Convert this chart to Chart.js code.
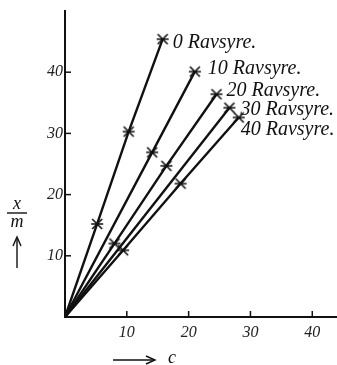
<!DOCTYPE html>
<html>
<head>
<meta charset="utf-8">
<script src="https://cdn.jsdelivr.net/npm/chart.js@4.4.1/dist/chart.umd.min.js"></script>
<style>
  html, body { margin: 0; padding: 0; background: #fff; }
  #wrap { width: 337px; height: 365px; }
</style>
</head>
<body>
<div id="wrap"><canvas id="adsorptionChart"></canvas></div>
<script>
// concentration c and adsorbed amount x/m, one pair of arrays per curve
var seriesLabels = ['0 Ravsyre.', '10 Ravsyre.', '20 Ravsyre.', '30 Ravsyre.', '40 Ravsyre.'];

var c0 = [0, 5.2, 10.3, 15.8];
var xm0 = [0, 15.2, 30.3, 45.4];

var c10 = [0, 14.1, 21.0];
var xm10 = [0, 26.9, 40.1];

var c20 = [0, 8.0, 16.4, 24.5];
var xm20 = [0, 12.0, 24.7, 36.4];

var c30 = [0, 26.6];
var xm30 = [0, 34.2];

var c40 = [0, 9.4, 18.7, 28.1];
var xm40 = [0, 10.9, 21.8, 32.6];

var xTicks = [10, 20, 30, 40];
var yTicks = [10, 20, 30, 40];

var serifItalic = '"Liberation Serif", "DejaVu Serif", serif';

function toPoints(cs, xs) {
    return cs.map((c, i) => ({ x: c, y: xs[i] }));
}

// little star marker: an X with a horizontal bar
function makeMarker() {
    var cv = document.createElement('canvas');
    cv.width = 14; cv.height = 14;
    var g = cv.getContext('2d');
    g.strokeStyle = '#111';
    g.lineWidth = 1.6;
    g.beginPath();
    g.moveTo(2, 2); g.lineTo(12, 12);
    g.moveTo(12, 2); g.lineTo(2, 12);
    g.moveTo(1, 7); g.lineTo(13, 7);
    g.stroke();
    return cv;
}
var marker = makeMarker();

// label offsets next to the last point of each curve
var labelOffsets = [[10, 4], [13, -3], [10, -3], [11, 2], [2, 12]];

var curves = [[c0, xm0], [c10, xm10], [c20, xm20], [c30, xm30], [c40, xm40]];

var datasets = curves.map((pair, i) => ({
    label: seriesLabels[i],
    data: toPoints(pair[0], pair[1]),
    borderColor: '#111',
    borderWidth: 2.4,
    pointStyle: marker,
    pointRadius: pair[0].map(c => c === 0 ? 0 : 6),
    fill: false,
    tension: 0,
}));

// inward tick marks, curve labels and axis titles
var decorPlugin = {
    id: 'decor',
    afterDatasetsDraw(chart) {
        var ctx = chart.ctx;
        var xs = chart.scales.x, ys = chart.scales.y;
        ctx.save();
        ctx.strokeStyle = '#111';
        ctx.fillStyle = '#111';
        ctx.lineWidth = 1.5;

        // ticks
        xTicks.forEach(v => {
            var px = xs.getPixelForValue(v);
            ctx.beginPath();
            ctx.moveTo(px, ys.bottom);
            ctx.lineTo(px, ys.bottom - 6);
            ctx.stroke();
        });
        yTicks.forEach(v => {
            var py = ys.getPixelForValue(v);
            ctx.beginPath();
            ctx.moveTo(xs.left, py);
            ctx.lineTo(xs.left + 6, py);
            ctx.stroke();
        });

        // curve labels
        ctx.font = 'italic 20px ' + serifItalic;
        ctx.textBaseline = 'middle';
        ctx.textAlign = 'left';
        chart.data.datasets.forEach((ds, i) => {
            var meta = chart.getDatasetMeta(i);
            var last = meta.data[meta.data.length - 1];
            ctx.fillText(ds.label, last.x + labelOffsets[i][0], last.y + labelOffsets[i][1]);
        });

        // y title: x / m with arrow
        ctx.font = 'italic 18px ' + serifItalic;
        ctx.textAlign = 'center';
        ctx.fillText('x', 17, 204);
        ctx.lineWidth = 1.4;
        ctx.beginPath();
        ctx.moveTo(7, 213);
        ctx.lineTo(27, 213);
        ctx.stroke();
        ctx.fillText('m', 17, 222);
        ctx.beginPath();
        ctx.moveTo(17, 268);
        ctx.lineTo(17, 239);
        ctx.stroke();
        ctx.beginPath();
        ctx.moveTo(13, 246);
        ctx.lineTo(17, 237);
        ctx.lineTo(21, 246);
        ctx.stroke();

        // x title: arrow and c
        ctx.beginPath();
        ctx.moveTo(113, 360);
        ctx.lineTo(154, 360);
        ctx.stroke();
        ctx.beginPath();
        ctx.moveTo(146, 356);
        ctx.lineTo(155, 360);
        ctx.lineTo(146, 364);
        ctx.stroke();
        ctx.fillText('c', 172, 358);

        ctx.restore();
    }
};

var chart = new Chart(document.getElementById('adsorptionChart').getContext('2d'), {
    type: 'line',
    data: { datasets: datasets },
    options: {
        responsive: true,
        maintainAspectRatio: false,
        animation: false,
        layout: { autoPadding: false, padding: { top: 11, right: 0, left: 0, bottom: 0 } },
        plugins: {
            legend: { display: false },
            tooltip: { enabled: false },
        },
        scales: {
            x: {
                type: 'linear',
                min: 0,
                max: 44,
                grid: { display: false, drawTicks: false },
                border: { display: true, color: '#111', width: 2 },
                afterFit: s => { s.height = 48; s.paddingRight = 0; s.paddingLeft = 0; },
                ticks: {
                    stepSize: 10,
                    includeBounds: false,
                    autoSkip: false,
                    maxRotation: 0,
                    padding: 6,
                    color: '#222',
                    font: { family: serifItalic, style: 'italic', size: 16 },
                    callback: v => xTicks.includes(v) ? String(v) : '',
                },
            },
            y: {
                type: 'linear',
                min: 0,
                max: 50,
                grid: { display: false, drawTicks: false },
                border: { display: true, color: '#111', width: 2 },
                afterFit: s => { s.width = 65; s.paddingTop = 0; s.paddingBottom = 0; },
                ticks: {
                    stepSize: 10,
                    autoSkip: false,
                    padding: 2,
                    color: '#222',
                    font: { family: serifItalic, style: 'italic', size: 16 },
                    callback: v => yTicks.includes(v) ? String(v) : '',
                },
            },
        },
    },
    plugins: [decorPlugin],
});
</script>
</body>
</html>
